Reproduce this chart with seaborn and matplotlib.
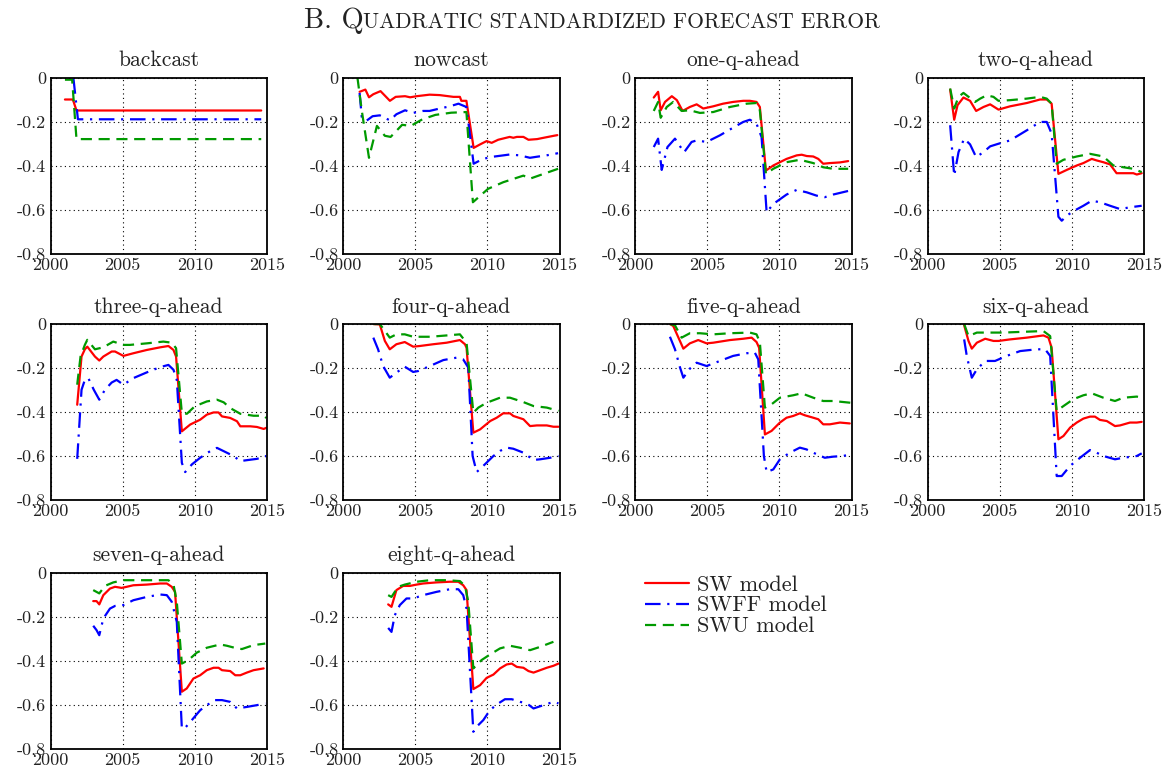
import matplotlib
matplotlib.use("Agg")
import matplotlib.pyplot as plt
from matplotlib.lines import Line2D
import seaborn as sns

# ---- data: (year, value) ----
bc_sw = [(2001.0, -0.10), (2001.55, -0.10), (2001.8, -0.15), (2014.6, -0.15)]
bc_swff = [(2001.5, -0.01), (2001.6, -0.01), (2001.9, -0.19), (2014.6, -0.19)]
bc_swu = [(2001.0, -0.01), (2001.5, -0.01), (2001.8, -0.28), (2014.6, -0.28)]

nc_sw = [(2001.15, -0.065), (2001.55, -0.055), (2001.8, -0.09), (2002.1, -0.076), (2002.6, -0.062),
         (2003.25, -0.106), (2003.65, -0.088), (2004.3, -0.085), (2004.65, -0.09), (2005.1, -0.085),
         (2006.0, -0.078), (2006.7, -0.08), (2007.65, -0.088), (2008.1, -0.088), (2008.2, -0.106),
         (2008.55, -0.106), (2009.05, -0.32), (2009.5, -0.304), (2009.95, -0.289), (2010.3, -0.297),
         (2010.75, -0.283), (2011.55, -0.27), (2011.8, -0.274), (2012.05, -0.27), (2012.5, -0.27),
         (2012.85, -0.283), (2013.45, -0.28), (2013.9, -0.274), (2014.6, -0.265), (2014.85, -0.262)]
nc_swff = [(2001.15, -0.07), (2001.3, -0.18), (2001.6, -0.198), (2002.05, -0.176), (2002.55, -0.172),
           (2003.25, -0.195), (2003.7, -0.167), (2004.3, -0.149), (2004.85, -0.161), (2005.55, -0.152),
           (2006.0, -0.152), (2006.7, -0.141), (2007.4, -0.131), (2008.0, -0.119), (2008.55, -0.134),
           (2009.05, -0.392), (2009.7, -0.37), (2010.4, -0.36), (2011.1, -0.354), (2011.55, -0.35),
           (2012.25, -0.354), (2012.95, -0.365), (2013.45, -0.36), (2014.1, -0.354), (2014.9, -0.344)]
nc_swu = [(2001.0, 0.0), (2001.3, -0.15), (2001.8, -0.365), (2002.35, -0.22), (2002.9, -0.265),
          (2003.3, -0.27), (2004.1, -0.215), (2004.7, -0.22), (2005.5, -0.19), (2006.4, -0.17),
          (2007.5, -0.16), (2008.55, -0.157), (2009.0, -0.567), (2010.05, -0.506), (2011.1, -0.476),
          (2012.5, -0.446), (2012.95, -0.46), (2013.9, -0.438), (2014.9, -0.415)]

oq_sw = [(2001.3, -0.091), (2001.6, -0.065), (2001.78, -0.149), (2002.08, -0.111), (2002.55, -0.085),
         (2002.9, -0.103), (2003.3, -0.152), (2003.8, -0.134), (2004.27, -0.122), (2004.73, -0.141),
         (2005.42, -0.131), (2006.1, -0.119), (2006.8, -0.111), (2007.5, -0.106), (2007.96, -0.106),
         (2008.42, -0.111), (2008.65, -0.134), (2009.07, -0.423), (2009.58, -0.4), (2010.04, -0.385),
         (2010.5, -0.37), (2011.2, -0.354), (2011.55, -0.351), (2011.9, -0.357), (2012.35, -0.359),
         (2012.7, -0.37), (2013.04, -0.392), (2013.5, -0.389), (2014.2, -0.386), (2014.77, -0.38)]
oq_swff = [(2001.3, -0.316), (2001.6, -0.278), (2001.85, -0.42), (2002.25, -0.316), (2002.77, -0.278),
           (2003.4, -0.34), (2003.92, -0.293), (2004.27, -0.286), (2004.96, -0.293), (2005.88, -0.263),
           (2006.8, -0.228), (2007.5, -0.202), (2007.96, -0.192), (2008.42, -0.21), (2008.77, -0.271),
           (2009.12, -0.613), (2009.58, -0.575), (2010.5, -0.532), (2011.2, -0.511), (2011.9, -0.522),
           (2012.58, -0.537), (2013.15, -0.544), (2013.73, -0.532), (2014.88, -0.514)]
oq_swu = [(2001.3, -0.152), (2001.6, -0.111), (2001.78, -0.183), (2002.2, -0.134), (2002.65, -0.111),
          (2003.23, -0.152), (2003.8, -0.149), (2004.5, -0.161), (2005.42, -0.157), (2006.58, -0.134),
          (2007.73, -0.119), (2008.42, -0.116), (2008.65, -0.149), (2009.07, -0.438), (2009.58, -0.415),
          (2010.5, -0.385), (2011.42, -0.374), (2012.35, -0.389), (2013.04, -0.408), (2013.73, -0.415),
          (2014.77, -0.415)]

tq_sw = [(2001.57, -0.055), (2001.85, -0.192), (2002.08, -0.126), (2002.49, -0.091), (2002.95, -0.106),
         (2003.37, -0.152), (2003.88, -0.134), (2004.34, -0.122), (2004.92, -0.146), (2005.72, -0.131),
         (2006.88, -0.116), (2007.8, -0.1), (2008.26, -0.1), (2008.6, -0.119), (2009.07, -0.438),
         (2009.65, -0.42), (2010.34, -0.4), (2010.8, -0.389), (2011.38, -0.37), (2011.72, -0.377),
         (2012.18, -0.385), (2012.65, -0.395), (2013.1, -0.435), (2013.57, -0.435), (2014.26, -0.435),
         (2014.5, -0.441), (2014.84, -0.435)]
tq_swff = [(2001.57, -0.217), (2001.85, -0.446), (2002.15, -0.339), (2002.54, -0.278), (2002.95, -0.304),
           (2003.37, -0.362), (2003.88, -0.339), (2004.34, -0.313), (2004.92, -0.301), (2005.72, -0.286),
           (2006.88, -0.24), (2007.8, -0.202), (2008.26, -0.202), (2008.6, -0.255), (2009.07, -0.633),
           (2009.3, -0.651), (2009.65, -0.628), (2010.1, -0.608), (2010.8, -0.583), (2011.38, -0.56),
           (2011.95, -0.567), (2012.65, -0.583), (2013.34, -0.598), (2014.03, -0.59), (2014.84, -0.583)]
tq_swu = [(2001.57, -0.05), (2001.85, -0.141), (2002.15, -0.088), (2002.49, -0.07), (2003.3, -0.111),
          (2003.65, -0.096), (2004.1, -0.081), (2004.57, -0.088), (2004.92, -0.106), (2005.72, -0.103),
          (2006.88, -0.096), (2007.8, -0.088), (2008.26, -0.096), (2008.6, -0.119), (2008.95, -0.392),
          (2009.42, -0.374), (2010.34, -0.359), (2011.26, -0.347), (2012.18, -0.359), (2012.88, -0.4),
          (2013.57, -0.408), (2014.26, -0.415), (2014.84, -0.43)]

thq_sw = [(2001.85, -0.367), (2002.15, -0.148), (2002.38, -0.115), (2002.55, -0.103), (2003.08, -0.148),
          (2003.38, -0.166), (2003.66, -0.148), (2004.24, -0.125), (2004.47, -0.125), (2005.05, -0.145),
          (2005.74, -0.133), (2006.67, -0.118), (2007.6, -0.106), (2008.17, -0.1), (2008.52, -0.118),
          (2008.7, -0.148), (2009.1, -0.488), (2009.68, -0.457), (2010.37, -0.435), (2010.83, -0.412),
          (2011.3, -0.402), (2011.64, -0.402), (2011.88, -0.42), (2012.45, -0.427), (2012.92, -0.442),
          (2013.15, -0.465), (2013.84, -0.465), (2014.3, -0.468), (2014.77, -0.477), (2014.95, -0.472)]
thq_swff = [(2001.85, -0.613), (2002.15, -0.299), (2002.38, -0.254), (2002.62, -0.246), (2003.0, -0.299),
            (2003.38, -0.344), (2003.77, -0.299), (2004.24, -0.266), (2004.58, -0.254), (2005.05, -0.276),
            (2005.74, -0.246), (2006.67, -0.22), (2007.6, -0.196), (2008.17, -0.186), (2008.52, -0.208),
            (2008.75, -0.254), (2009.1, -0.631), (2009.33, -0.673), (2009.8, -0.638), (2010.37, -0.608),
            (2011.06, -0.578), (2011.53, -0.563), (2012.0, -0.578), (2012.68, -0.6), (2013.15, -0.623),
            (2013.6, -0.619), (2014.3, -0.613), (2014.95, -0.6)]
thq_swu = [(2001.85, -0.276), (2002.08, -0.148), (2002.38, -0.095), (2002.55, -0.072), (2003.08, -0.115),
           (2003.66, -0.106), (2004.35, -0.08), (2005.05, -0.095), (2005.5, -0.095), (2006.67, -0.088),
           (2007.82, -0.08), (2008.4, -0.085), (2008.7, -0.11), (2009.1, -0.405), (2009.45, -0.408),
           (2010.0, -0.374), (2010.83, -0.352), (2011.53, -0.344), (2012.0, -0.356), (2012.45, -0.382),
           (2013.15, -0.408), (2014.07, -0.417), (2014.77, -0.417), (2014.95, -0.427)]

fq_sw = [(2002.1, 0.0), (2002.55, -0.002), (2002.9, -0.077), (2003.24, -0.115), (2003.7, -0.092),
         (2004.28, -0.082), (2004.86, -0.103), (2005.32, -0.1), (2006.25, -0.092), (2007.18, -0.085),
         (2008.1, -0.073), (2008.45, -0.092), (2008.56, -0.108), (2009.03, -0.494), (2009.5, -0.479),
         (2010.2, -0.441), (2010.65, -0.426), (2011.1, -0.406), (2011.57, -0.406), (2011.8, -0.418),
         (2012.5, -0.433), (2012.96, -0.464), (2013.43, -0.461), (2014.12, -0.461), (2014.58, -0.467),
         (2014.93, -0.467)]
fq_swff = [(2002.1, -0.062), (2002.43, -0.115), (2002.78, -0.191), (2003.24, -0.244), (2003.7, -0.221),
           (2004.28, -0.194), (2004.86, -0.218), (2005.2, -0.214), (2006.02, -0.191), (2006.95, -0.164),
           (2007.87, -0.153), (2008.33, -0.161), (2008.68, -0.198), (2008.98, -0.6), (2009.26, -0.673),
           (2009.72, -0.645), (2010.42, -0.6), (2010.88, -0.577), (2011.34, -0.562), (2011.8, -0.567),
           (2012.5, -0.585), (2013.2, -0.618), (2013.66, -0.615), (2014.35, -0.608), (2014.93, -0.6)]
fq_swu = [(2002.1, 0.0), (2002.55, 0.0), (2003.24, -0.062), (2003.7, -0.047), (2004.28, -0.047),
          (2004.86, -0.058), (2006.02, -0.058), (2007.18, -0.052), (2008.1, -0.047), (2008.56, -0.085),
          (2009.03, -0.403), (2009.38, -0.38), (2009.95, -0.358), (2010.88, -0.335), (2011.57, -0.335),
          (2012.5, -0.355), (2013.2, -0.373), (2014.12, -0.38), (2014.93, -0.395)]

fiq_sw = [(2002.42, 0.0), (2002.65, -0.009), (2003.35, -0.112), (2003.8, -0.088), (2004.38, -0.073),
          (2004.96, -0.088), (2005.42, -0.085), (2006.58, -0.073), (2007.5, -0.067), (2008.08, -0.062),
          (2008.42, -0.082), (2008.6, -0.108), (2009.0, -0.502), (2009.46, -0.486), (2010.04, -0.448),
          (2010.5, -0.426), (2010.96, -0.418), (2011.42, -0.406), (2011.77, -0.415), (2012.35, -0.426),
          (2012.7, -0.433), (2013.04, -0.456), (2013.5, -0.456), (2014.2, -0.448), (2014.88, -0.452)]
fiq_swff = [(2002.42, -0.058), (2002.77, -0.115), (2003.12, -0.198), (2003.35, -0.244), (2003.8, -0.203),
            (2004.27, -0.176), (2004.96, -0.191), (2005.88, -0.168), (2006.8, -0.145), (2007.73, -0.133),
            (2008.3, -0.13), (2008.54, -0.161), (2008.93, -0.6), (2009.12, -0.673), (2009.58, -0.661),
            (2010.04, -0.615), (2010.73, -0.585), (2011.42, -0.562), (2011.88, -0.57), (2012.58, -0.592),
            (2013.15, -0.608), (2013.73, -0.603), (2014.42, -0.6), (2014.93, -0.592)]
fiq_swu = [(2002.42, 0.0), (2002.77, -0.006), (2003.23, -0.062), (2003.8, -0.042), (2004.5, -0.042),
           (2005.42, -0.047), (2006.58, -0.042), (2007.96, -0.039), (2008.42, -0.047), (2008.65, -0.082),
           (2009.0, -0.38), (2009.46, -0.365), (2010.04, -0.335), (2010.96, -0.324), (2011.54, -0.315),
           (2012.35, -0.335), (2013.04, -0.35), (2013.73, -0.35), (2014.93, -0.358)]

sq_sw = [(2002.54, -0.006), (2002.84, -0.077), (2003.07, -0.112), (2003.42, -0.085), (2004.0, -0.067),
         (2004.57, -0.077), (2004.92, -0.077), (2005.72, -0.07), (2006.88, -0.062), (2008.03, -0.052),
         (2008.38, -0.062), (2008.6, -0.108), (2009.07, -0.524), (2009.42, -0.509), (2009.88, -0.471),
         (2010.34, -0.448), (2010.8, -0.43), (2011.26, -0.421), (2011.6, -0.421), (2011.95, -0.436),
         (2012.42, -0.441), (2012.99, -0.464), (2013.34, -0.461), (2014.03, -0.448), (2014.5, -0.448),
         (2014.84, -0.445)]
sq_swff = [(2002.54, -0.07), (2002.72, -0.145), (2003.07, -0.244), (2003.42, -0.206), (2004.0, -0.168),
           (2004.68, -0.168), (2005.49, -0.145), (2006.42, -0.123), (2007.57, -0.115), (2008.15, -0.115),
           (2008.5, -0.145), (2008.95, -0.691), (2009.3, -0.691), (2009.88, -0.645), (2010.57, -0.608),
           (2011.26, -0.573), (2011.72, -0.585), (2012.18, -0.6), (2012.99, -0.615), (2013.57, -0.608),
           (2014.5, -0.6), (2014.84, -0.588)]
sq_swu = [(2002.54, 0.0), (2002.84, -0.055), (2003.42, -0.039), (2004.1, -0.039), (2005.26, -0.039),
          (2006.42, -0.036), (2008.03, -0.032), (2008.5, -0.055), (2008.95, -0.395), (2009.42, -0.373),
          (2010.1, -0.342), (2010.8, -0.324), (2011.38, -0.315), (2012.18, -0.335), (2012.99, -0.35),
          (2013.57, -0.335), (2014.5, -0.33), (2014.84, -0.335)]

svq_sw = [(2002.96, -0.13), (2003.19, -0.13), (2003.38, -0.145), (2003.66, -0.103), (2004.12, -0.073),
          (2004.47, -0.065), (2004.93, -0.07), (2005.28, -0.065), (2005.74, -0.058), (2006.67, -0.055),
          (2007.6, -0.05), (2008.06, -0.05), (2008.4, -0.065), (2008.63, -0.088), (2009.1, -0.542),
          (2009.44, -0.527), (2009.9, -0.482), (2010.37, -0.467), (2010.83, -0.444), (2011.3, -0.433),
          (2011.64, -0.433), (2011.88, -0.444), (2012.45, -0.448), (2012.8, -0.467), (2013.15, -0.467),
          (2013.6, -0.455), (2014.07, -0.444), (2014.77, -0.436)]
svq_swff = [(2002.96, -0.242), (2003.19, -0.262), (2003.38, -0.285), (2003.66, -0.209), (2004.12, -0.164),
            (2004.47, -0.152), (2005.05, -0.148), (2005.74, -0.126), (2006.67, -0.111), (2007.6, -0.1),
            (2008.06, -0.103), (2008.4, -0.133), (2008.75, -0.224), (2009.1, -0.709), (2009.33, -0.706),
            (2009.79, -0.671), (2010.37, -0.626), (2010.83, -0.603), (2011.4, -0.58), (2011.88, -0.58),
            (2012.45, -0.588), (2012.92, -0.618), (2013.6, -0.611), (2014.3, -0.603), (2014.88, -0.595)]
svq_swu = [(2002.96, -0.08), (2003.38, -0.095), (2003.77, -0.061), (2004.35, -0.045), (2005.05, -0.035),
           (2006.2, -0.035), (2007.6, -0.035), (2008.17, -0.035), (2008.52, -0.055), (2008.75, -0.133),
           (2009.1, -0.414), (2009.56, -0.398), (2010.14, -0.364), (2010.83, -0.342), (2011.76, -0.327),
           (2012.22, -0.333), (2012.92, -0.345), (2013.26, -0.348), (2014.07, -0.33), (2014.88, -0.323)]

eq_sw = [(2003.13, -0.145), (2003.36, -0.156), (2003.7, -0.08), (2004.17, -0.061), (2004.63, -0.061),
         (2005.1, -0.055), (2005.55, -0.05), (2006.48, -0.045), (2007.4, -0.042), (2007.99, -0.042),
         (2008.33, -0.058), (2008.56, -0.08), (2009.03, -0.53), (2009.5, -0.512), (2009.95, -0.479),
         (2010.42, -0.464), (2010.88, -0.436), (2011.34, -0.418), (2011.69, -0.414), (2012.04, -0.429),
         (2012.5, -0.433), (2012.85, -0.448), (2013.2, -0.455), (2013.66, -0.444), (2014.12, -0.433),
         (2014.58, -0.424), (2014.93, -0.414)]
eq_swff = [(2003.13, -0.252), (2003.36, -0.27), (2003.59, -0.194), (2003.94, -0.148), (2004.4, -0.118),
           (2004.86, -0.118), (2005.55, -0.103), (2006.48, -0.088), (2007.4, -0.076), (2007.99, -0.076),
           (2008.33, -0.103), (2008.56, -0.164), (2009.03, -0.724), (2009.26, -0.701), (2009.72, -0.671),
           (2010.18, -0.626), (2010.65, -0.6), (2011.22, -0.576), (2011.69, -0.576), (2012.27, -0.588),
           (2012.73, -0.595), (2013.2, -0.618), (2013.89, -0.603), (2014.58, -0.588), (2014.93, -0.595)]
eq_swu = [(2003.13, -0.103), (2003.36, -0.111), (2003.82, -0.065), (2004.28, -0.055), (2005.1, -0.042),
          (2006.02, -0.035), (2007.18, -0.035), (2008.1, -0.039), (2008.45, -0.061), (2008.68, -0.133),
          (2009.03, -0.436), (2009.6, -0.398), (2010.18, -0.373), (2010.88, -0.345), (2011.57, -0.333),
          (2012.27, -0.342), (2012.96, -0.353), (2013.66, -0.338), (2014.58, -0.315)]

titles = ['backcast', 'nowcast', 'one-q-ahead', 'two-q-ahead', 'three-q-ahead', 'four-q-ahead',
          'five-q-ahead', 'six-q-ahead', 'seven-q-ahead', 'eight-q-ahead']
panel_series = [(bc_sw, bc_swff, bc_swu), (nc_sw, nc_swff, nc_swu), (oq_sw, oq_swff, oq_swu),
                (tq_sw, tq_swff, tq_swu), (thq_sw, thq_swff, thq_swu), (fq_sw, fq_swff, fq_swu),
                (fiq_sw, fiq_swff, fiq_swu), (sq_sw, sq_swff, sq_swu), (svq_sw, svq_swff, svq_swu),
                (eq_sw, eq_swff, eq_swu)]
model_labels = ['SW model', 'SWFF model', 'SWU model']
xticks = [2000, 2005, 2010, 2015]
yticks = [0, -0.2, -0.4, -0.6, -0.8]
ytick_labels = ['0', '-0.2', '-0.4', '-0.6', '-0.8']

# ---- style ----
sns.set_theme(style='white')
plt.rcParams['font.family'] = ['cmr10', 'DejaVu Serif']
plt.rcParams['axes.unicode_minus'] = False
plt.rcParams['mathtext.fontset'] = 'cm'

colors = ['#ff0000', '#0000ff', '#009a00']
styles = ['-', (0, (7, 3, 1, 3)), (0, (5, 3))]
txt_col = '#222222'

fig = plt.figure(figsize=(11.67, 7.74), dpi=100)
W, H = 1167, 774
col_left = [50.5, 343, 635, 927.5]
row_top = [77.5, 324, 572.5]
aw, ah = 216.5, 176

for i, (title, series) in enumerate(zip(titles, panel_series)):
    r, c = divmod(i, 4)
    ax = fig.add_axes([col_left[c] / W, 1 - (row_top[r] + ah) / H, aw / W, ah / H])
    for s, col, ls in zip(series, colors, styles):
        sns.lineplot(x=[p[0] for p in s], y=[p[1] for p in s], ax=ax, sort=False, estimator=None,
                     color=col, linestyle=ls, linewidth=1.6)
    ax.set_xlim(2000, 2015)
    ax.set_ylim(-0.8, 0)
    ax.set_xticks(xticks)
    ax.set_xticklabels([str(t) for t in xticks])
    ax.set_yticks(yticks)
    ax.set_yticklabels(ytick_labels)
    ax.grid(True, color='black', linestyle=(0, (1, 3)), linewidth=0.8)
    ax.tick_params(direction='in', length=3, width=0.8, labelsize=13, colors='black',
                   labelcolor=txt_col, pad=3)
    for sp in ax.spines.values():
        sp.set_color('black')
        sp.set_linewidth(1.3)
    ax.set_xlabel('')
    ax.set_ylabel('')
    ax.set_title(title, fontsize=15.5, color=txt_col, pad=8)

# legend
handles = [Line2D([0], [0], color=col, linestyle=ls, linewidth=1.6) for col, ls in zip(colors, styles)]
fig.legend(handles, model_labels, loc='upper left', bbox_to_anchor=(645 / W, 1 - 575 / H),
           frameon=False, fontsize=16, handlelength=2.0, handletextpad=0.35, labelspacing=0.06,
           borderpad=0, borderaxespad=0, labelcolor=txt_col)

# title in small caps: large initials, small uppercase rest
t1 = fig.text(0, 1 - 28 / H, 'B. Q', fontsize=20.5, color=txt_col, ha='left', va='baseline')
t2 = fig.text(0, 1 - 28 / H, 'UADRATIC STANDARDIZED FORECAST ERROR', fontsize=15.5, color=txt_col,
              ha='left', va='baseline')
renderer = fig.canvas.get_renderer()
w1 = t1.get_window_extent(renderer).width
w2 = t2.get_window_extent(renderer).width
x0 = 592 - (w1 + w2) / 2
t1.set_x(x0 / W)
t2.set_x((x0 + w1) / W)

fig.savefig('out.png', dpi=100)
